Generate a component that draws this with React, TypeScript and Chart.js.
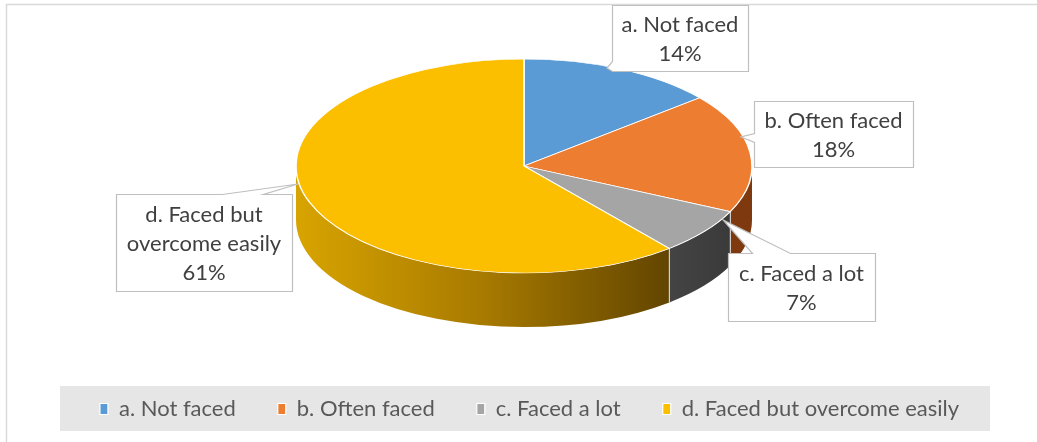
import React, { useEffect, useRef } from "react";
import { Chart, registerables } from "chart.js";

Chart.register(...registerables);

// ---- data ----
const categories = ["a. Not faced", "b. Often faced", "c. Faced a lot", "d. Faced but overcome easily"];
const shares = [14, 18, 7, 61];
const topColors = ["#5B9BD5", "#ED7D31", "#A5A5A5", "#FBBF00"];
const sideColors = ["#2E5F8C", "#7E3A0E", "#404040", "#B08200"];

const FONT = "Lato, 'Liberation Sans', sans-serif";
const FONT_SIZE = 22;

// ---- layout (screen pixels) ----
const PIE = { cx: 524, cy: 166, rx: 228, ry: 107, depth: 54 };
type Callout = { box: [number, number, number, number]; side: "left" | "top"; base: [number, number]; tip: [number, number] };
const CALLOUTS: Callout[] = [
  { box: [612, 5, 136, 66], side: "left", base: [61, 71], tip: [607, 68] },
  { box: [754, 101, 159, 66], side: "left", base: [133, 142], tip: [741, 137] },
  { box: [728, 253, 147, 68], side: "top", base: [752, 790], tip: [723, 220] },
  { box: [116, 194, 176, 97], side: "top", base: [222, 263], tip: [298, 184] },
];

function wrap(ctx: CanvasRenderingContext2D, text: string, maxW: number): string[] {
  const words = text.split(" ");
  const lines: string[] = [];
  let cur = "";
  for (const w of words) {
    const t = cur ? cur + " " + w : w;
    if (cur && ctx.measureText(t).width > maxW) {
      lines.push(cur);
      cur = w;
    } else cur = t;
  }
  if (cur) lines.push(cur);
  return lines;
}

export default function App() {
  const ref = useRef<HTMLCanvasElement>(null);

  useEffect(() => {
    const canvas = ref.current!;
    const total = shares.reduce((a, b) => a + b, 0);

    const pie3d = {
      id: "pie3d",
      beforeDraw(chart: any) {
        const ctx = chart.ctx as CanvasRenderingContext2D;
        ctx.save();
        ctx.strokeStyle = "#D9D9D9";
        ctx.lineWidth = 1.5;
        ctx.beginPath();
        ctx.moveTo(6.5, 442);
        ctx.lineTo(6.5, 4.5);
        ctx.lineTo(1037, 4.5);
        ctx.stroke();
        ctx.fillStyle = "#E6E6E6";
        ctx.fillRect(60, 386, 930, 45);
        ctx.restore();
      },
      beforeDatasetsDraw(chart: any) {
        const ctx = chart.ctx as CanvasRenderingContext2D;
        const meta = chart.getDatasetMeta(0);
        const { cx, cy, rx, ry, depth } = PIE;
        ctx.save();
        const bounds: number[] = [];
        meta.data.forEach((el: any, i: number) => {
          const a = Math.max(el.startAngle, 0);
          const b = Math.min(el.endAngle, Math.PI);
          if (b <= a) return;
          ctx.beginPath();
          ctx.ellipse(cx, cy, rx, ry, 0, a, b, false);
          ctx.ellipse(cx, cy + depth, rx, ry, 0, b, a, true);
          ctx.closePath();
          let fill: any = sideColors[i];
          if (i === 3) {
            const g = ctx.createLinearGradient(cx - rx, 0, cx + rx * Math.cos(a), 0);
            g.addColorStop(0, "#D8A400");
            g.addColorStop(0.5, "#A87A00");
            g.addColorStop(1, "#624500");
            fill = g;
          } else if (i === 2) {
            const g = ctx.createLinearGradient(cx + rx * Math.cos(b), 0, cx + rx * Math.cos(a), 0);
            g.addColorStop(0, "#444444");
            g.addColorStop(1, "#3A3A3A");
            fill = g;
          }
          ctx.fillStyle = fill;
          ctx.fill();
          if (el.startAngle > 0 && el.startAngle < Math.PI) bounds.push(el.startAngle);
        });
        ctx.strokeStyle = "rgba(235,235,235,0.95)";
        ctx.lineWidth = 1;
        bounds.forEach((t) => {
          const x = cx + rx * Math.cos(t);
          const y = cy + ry * Math.sin(t);
          ctx.beginPath();
          ctx.moveTo(x, y);
          ctx.lineTo(x, y + depth);
          ctx.stroke();
        });
        ctx.restore();

        const el0: any = meta.data[0];
        const R = el0.outerRadius;
        ctx.save();
        ctx.translate(cx, cy);
        ctx.scale(rx / R, ry / R);
        ctx.translate(-el0.x, -el0.y);
      },
      afterDatasetsDraw(chart: any) {
        chart.ctx.restore();
      },
      afterDraw(chart: any) {
        const ctx = chart.ctx as CanvasRenderingContext2D;
        ctx.save();
        ctx.font = `${FONT_SIZE}px ${FONT}`;
        CALLOUTS.forEach((c, i) => {
          const [x0, y0, w, h] = c.box;
          const x = x0 + 0.5, y = y0 + 0.5;
          ctx.beginPath();
          if (c.side === "left") {
            ctx.moveTo(x, y);
            ctx.lineTo(x + w, y);
            ctx.lineTo(x + w, y + h);
            ctx.lineTo(x, y + h);
            ctx.lineTo(x, c.base[1] + 0.5);
            ctx.lineTo(c.tip[0], c.tip[1]);
            ctx.lineTo(x, c.base[0] + 0.5);
            ctx.closePath();
          } else {
            ctx.moveTo(x, y);
            ctx.lineTo(c.base[0] + 0.5, y);
            ctx.lineTo(c.tip[0], c.tip[1]);
            ctx.lineTo(c.base[1] + 0.5, y);
            ctx.lineTo(x + w, y);
            ctx.lineTo(x + w, y + h);
            ctx.lineTo(x, y + h);
            ctx.closePath();
          }
          ctx.fillStyle = "#FFFFFF";
          ctx.fill();
          ctx.strokeStyle = "#BFBFBF";
          ctx.lineWidth = 1.2;
          ctx.stroke();

          const lines = wrap(ctx, categories[i], w - 12);
          lines.push(Math.round((shares[i] / total) * 100) + "%");
          const lh = 29;
          const mid = y0 + h / 2 + 1;
          ctx.fillStyle = "#404040";
          ctx.textAlign = "center";
          ctx.textBaseline = "middle";
          lines.forEach((ln, k) => {
            ctx.fillText(ln, x0 + w / 2, mid + (k - (lines.length - 1) / 2) * lh);
          });
        });
        ctx.restore();
      },
    };

    const chart = new Chart(canvas, {
      type: "pie",
      data: {
        labels: categories,
        datasets: [
          {
            data: shares,
            backgroundColor: topColors,
            borderColor: "#FFFFFF",
            borderWidth: 1.2,
            clip: false as any,
          },
        ],
      },
      options: {
        responsive: false,
        animation: false,
        devicePixelRatio: 1,
        events: [],
        layout: { padding: { bottom: 12, left: 22 } },
        plugins: {
          tooltip: { enabled: false },
          legend: {
            position: "bottom",
            labels: {
              boxWidth: 8,
              boxHeight: 11,
              padding: 42,
              color: "#595959",
              font: { family: FONT, size: FONT_SIZE },
            },
          },
        },
      },
      plugins: [pie3d],
    });
    return () => chart.destroy();
  }, []);

  return (
    <div style={{ position: "fixed", left: 0, top: 0, width: 1037, height: 442, background: "#FFFFFF" }}>
      <canvas ref={ref} width={1037} height={442} style={{ display: "block", width: 1037, height: 442 }} />
    </div>
  );
}
